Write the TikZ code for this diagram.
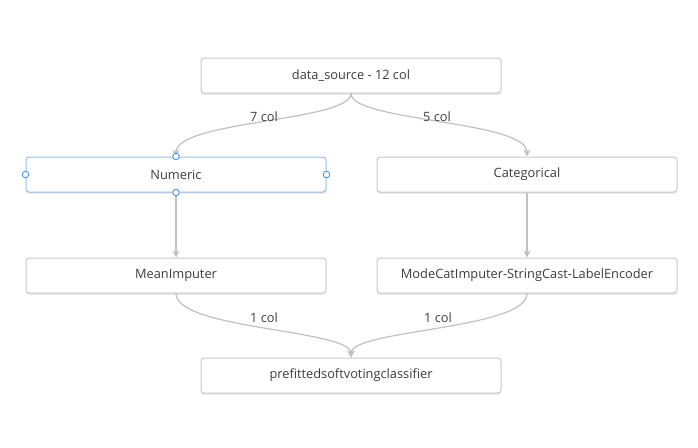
\documentclass[tikz,border=0pt]{standalone}
\usepackage{fontspec}
\setmainfont{Open Sans}
\usetikzlibrary{arrows.meta,shadows,calc}
\definecolor{edgegray}{RGB}{192,192,192}
\definecolor{boxgray}{RGB}{200,200,200}
\definecolor{txtgray}{RGB}{60,60,60}
\definecolor{selblue}{RGB}{150,190,235}
\definecolor{handleblue}{RGB}{70,150,240}
\begin{document}
\begin{tikzpicture}[x=1pt,y=-1pt,
  box/.style={draw=boxgray,line width=1pt,fill=white,rounded corners=3pt,
    minimum width=300pt,minimum height=35pt,inner sep=0pt,
    font=\fontsize{12.8}{15}\selectfont,text=txtgray,
    drop shadow={shadow xshift=0pt,shadow yshift=-1.5pt,opacity=0.12,fill=black}},
  selbox/.style={box,draw=selblue},
  conn/.style={draw=edgegray,line width=1.2pt,-{Stealth[length=7pt,width=7pt]}},
  lbl/.style={font=\fontsize{12.8}{15}\selectfont,text=txtgray,inner sep=1pt},
  handle/.style={circle,draw=handleblue,fill=white,line width=0.9pt,minimum size=6.5pt,inner sep=0pt}]
\useasboundingbox (0,0) rectangle (698,447);
\node[box] (ds) at (351,75.5) {data\_source - 12 col};
\node[selbox] (num) at (176,174.5) {Numeric};
\node[box] (cat) at (527,174.5) {Categorical};
\node[box] (mean) at (176,275.5) {MeanImputer};
\node[box] (mode) at (527,275.5) {ModeCatImputer-StringCast-LabelEncoder};
\node[box] (pre) at (351,375.5) {prefittedsoftvotingclassifier};
\draw[conn] (ds.south) .. controls ($(ds.south)+(0,28)$) and ($(num.north)+(0,-36)$) .. (num.north);
\draw[conn] (ds.south) .. controls ($(ds.south)+(0,28)$) and ($(cat.north)+(0,-36)$) .. (cat.north);
\draw[conn] (num.south) -- (mean.north);
\draw[conn] (cat.south) -- (mode.north);
\draw[conn] (mean.south) .. controls ($(mean.south)+(0,36)$) and ($(pre.north)+(0,-28)$) .. (pre.north);
\draw[conn] (mode.south) .. controls ($(mode.south)+(0,36)$) and ($(pre.north)+(0,-28)$) .. (pre.north);
\node[lbl] (l1) at (264,117) {7 col};
\node[lbl] (l2) at (437,117) {5 col};
\node[lbl] (l3) at (264,318) {1 col};
\node[lbl] (l4) at (438,318) {1 col};
\node[handle] (h1) at (num.north) {};
\node[handle] (h2) at (num.south) {};
\node[handle] (h3) at (num.west) {};
\node[handle] (h4) at (num.east) {};
\end{tikzpicture}
\end{document}
